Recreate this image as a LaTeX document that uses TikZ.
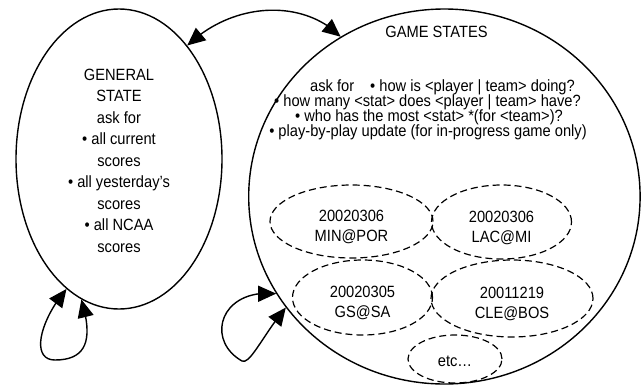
\documentclass[tikz,border=0pt]{standalone}
\usepackage{fontspec}
\setmainfont{Liberation Sans}[FakeStretch=0.9]
\usetikzlibrary{shapes.geometric,arrows.meta,bending}
\begin{document}
\begin{tikzpicture}[x=1pt,y=-1pt,
  every node/.style={font=\fontsize{16.3}{21.5}\selectfont, inner sep=0pt},
  bigell/.style={draw, line width=1.4pt, ellipse, inner sep=0pt},
  gameell/.style={draw, ellipse, dash pattern=on 7pt off 4pt, line width=1.2pt,
    inner sep=0pt, align=center, text height=40.4pt, text depth=0pt, font=\fontsize{16.3}{20}\selectfont},
  conn/.style={line width=1.4pt, {Triangle[length=18pt,width=16pt]}-{Triangle[length=18pt,width=16pt]}}
]
\useasboundingbox (0,0) rectangle (642,386);

\node[bigell, minimum width=206pt, minimum height=300pt, align=center, text height=186pt, text depth=0pt]
  (G) at (119,159) {GENERAL\\STATE\\ask for\\• all current\\scores\\• all yesterday’s\\scores\\• all NCAA\\scores};

\node[bigell, minimum width=391.4pt, minimum height=375pt] (S) at (444.4,196.5) {};

\node[anchor=base] (title) at (436.5,37.3) {GAME STATES};
\node[anchor=base] (q1) at (442.5,91) {ask for\hspace{16pt}• how is <player | team> doing?};
\node[anchor=base] (q2) at (427.5,106) {• how many <stat> does <player | team> have?};
\node[anchor=base] (q3) at (429,121) {• who has the most <stat> *(for <team>)?};
\node[anchor=base] (q4) at (428,136) {• play-by-play update (for in-progress game only)};

\node[gameell, minimum width=163pt, minimum height=73pt] (g1) at (351.5,221.5) {20020306\\MIN@POR};
\node[gameell, minimum width=140pt, minimum height=74pt] (g2) at (501.5,222) {20020306\\LAC@MI};
\node[gameell, minimum width=140pt, minimum height=75pt] (g3) at (362.5,297.5) {20020305\\GS@SA};
\node[gameell, minimum width=162pt, minimum height=77pt] (g4) at (512,298.5) {20011219\\CLE@BOS};
\node[gameell, minimum width=94pt, minimum height=48pt, text height=15.4pt] (g5) at (455,359) {etc…};

\draw[conn] (G.59) .. controls (235,0) and (305,0) .. (S.123);
\draw[conn] (G.248) .. controls (40,320) and (30,360) .. (55,360) .. controls (90,360) and (92,335) .. (G.255);
\draw[conn] (S.210) .. controls (220,288) and (205,340) .. (242,361) .. controls (250,365) and (263,335) .. (S.215);
\end{tikzpicture}
\end{document}
